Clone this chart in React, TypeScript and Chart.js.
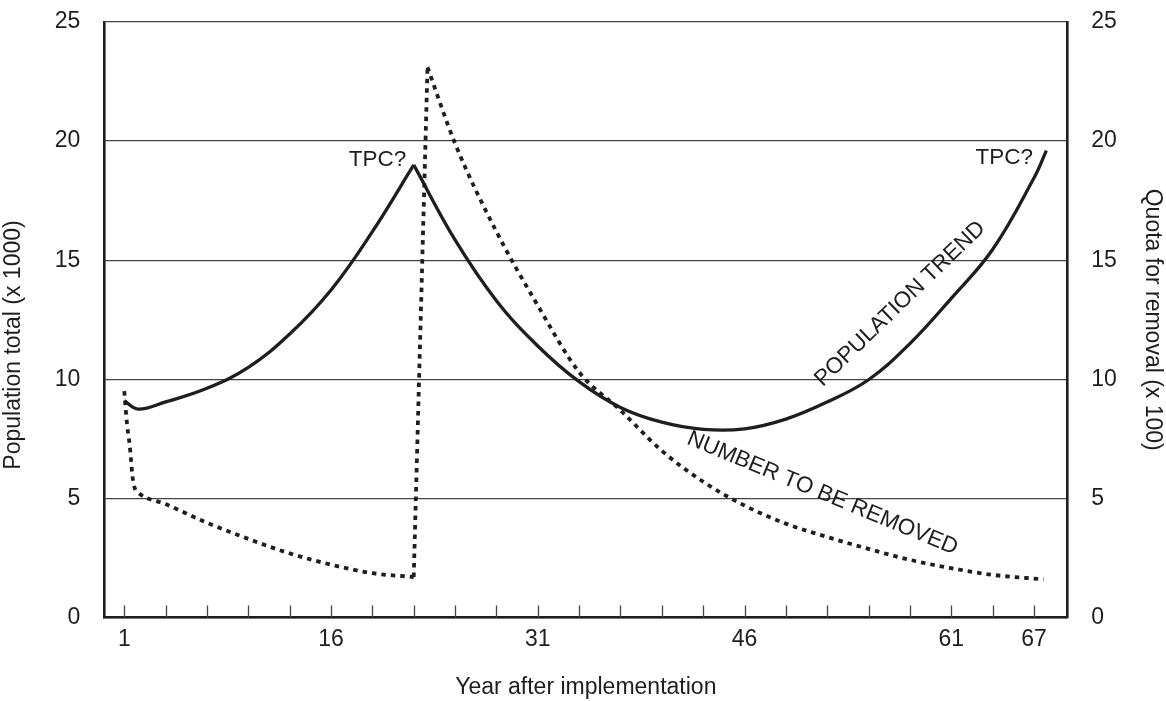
import React, { useEffect, useRef } from "react";
import { Chart, registerables } from "chart.js";

Chart.register(...registerables);

// ---------- data ----------
const popRiseYears = [1, 2, 4, 7, 10, 13, 16, 19, 22];
const popRiseValues = [9.1, 8.75, 9.05, 9.62, 10.5, 11.9, 13.75, 16.2, 19.0];

const popFallYears = [22, 25, 28, 31, 34, 37, 40, 43, 46, 49, 52, 55, 58, 61, 64, 67, 67.9];
const popFallValues = [19.0, 15.85, 13.3, 11.4, 9.9, 8.82, 8.2, 7.9, 7.92, 8.33, 9.05, 9.98, 11.5, 13.4, 15.45, 18.45, 19.6];

const removalEarlyYears = [1, 1.2, 1.4, 1.6, 1.75, 2, 4, 7, 10, 13, 16, 19, 22];
const removalEarlyValues = [9.5, 8.1, 7.2, 5.9, 5.45, 5.25, 4.76, 3.98, 3.3, 2.69, 2.22, 1.86, 1.7];

const removalJumpYears = [22, 23];
const removalJumpValues = [1.7, 23.1];

const removalLateYears = [23, 25, 28, 31, 34, 37, 40, 43, 46, 49, 52, 55, 58, 61, 64, 67.7];
const removalLateValues = [23.1, 19.9, 16.2, 13.1, 10.3, 8.7, 7.0, 5.7, 4.7, 3.94, 3.38, 2.88, 2.42, 2.07, 1.79, 1.6];

const xTickYears = [1, 4, 7, 10, 13, 16, 19, 22, 25, 28, 31, 34, 37, 40, 43, 46, 49, 52, 55, 58, 61, 64, 67];
const xLabelYears = [1, 16, 31, 46, 61, 67];

const xTitle = "Year after implementation";
const yLeftTitle = "Population total (x 1000)";
const yRightTitle = "Quota for removal (x 100)";

const annotationTexts = ["TPC?", "TPC?", "POPULATION TREND", "NUMBER TO BE REMOVED"];
const annotationYears = [19.37, 64.84, 57.29, 51.65];
const annotationValues = [19.22, 19.29, 13.17, 5.21];
const annotationAngles = [0, 0, -44, 22.5];

// ---------- styling ----------
const FONT = '"Liberation Sans", Arial, Helvetica, sans-serif';
const INK = "#1e1e1e";
const CHART_LEFT = 104.3;
const CHART_RIGHT = 1067.3;
const CHART_TOP = 22;
const CHART_BOTTOM = 617.5;
const W = 1166;
const H = 701;
const LEFT_TITLE_CENTER_Y = 345;

const toPoints = (xs: number[], ys: number[]) => xs.map((x, i) => ({ x, y: ys[i] }));

const tickMarksPlugin = {
  id: "innerTicks",
  beforeDatasetsDraw(chart: any) {
    const xs = chart.scales.x;
    const ctx = chart.ctx;
    const bottom = chart.chartArea.bottom;
    ctx.save();
    ctx.strokeStyle = "#444";
    ctx.lineWidth = 1.3;
    xTickYears.forEach((v) => {
      const px = Math.round(xs.getPixelForValue(v)) + 0.5;
      ctx.beginPath();
      ctx.moveTo(px, bottom);
      ctx.lineTo(px, bottom - 12);
      ctx.stroke();
    });
    ctx.restore();
  },
};

const annotationPlugin = {
  id: "curveLabels",
  afterDatasetsDraw(chart: any) {
    const xs = chart.scales.x;
    const ys = chart.scales.y;
    const ctx = chart.ctx;
    ctx.save();
    ctx.fillStyle = INK;
    ctx.font = `22.5px ${FONT}`;
    ctx.textAlign = "center";
    ctx.textBaseline = "middle";
    annotationTexts.forEach((t, i) => {
      const px = xs.getPixelForValue(annotationYears[i]);
      const py = ys.getPixelForValue(annotationValues[i]);
      ctx.save();
      ctx.translate(px, py);
      ctx.rotate((annotationAngles[i] * Math.PI) / 180);
      ctx.fillText(t, 0, 0);
      ctx.restore();
    });
    // left axis title
    ctx.font = `23px ${FONT}`;
    ctx.save();
    ctx.translate(13.5, LEFT_TITLE_CENTER_Y);
    ctx.rotate(-Math.PI / 2);
    ctx.fillText(yLeftTitle, 0, 0);
    ctx.restore();
    ctx.restore();
  },
};

const fixVertical = (width: number) => (scale: any) => {
  scale.width = width;
  scale.paddingTop = 8;
  scale.paddingBottom = 8;
};

export default function App() {
  const canvasRef = useRef<HTMLCanvasElement | null>(null);

  useEffect(() => {
    if (!canvasRef.current) return;
    const lineCommon = {
      borderColor: INK,
      pointRadius: 0,
      fill: false,
    };
    const solid = { ...lineCommon, borderWidth: 3.3, yAxisID: "y", tension: 0.4 };
    const dotted = {
      ...lineCommon,
      borderWidth: 3.8,
      borderDash: [4.5, 5],
      borderCapStyle: "butt" as const,
      yAxisID: "y1",
      cubicInterpolationMode: "monotone" as const,
    };

    const chart = new Chart(canvasRef.current, {
      type: "line",
      data: {
        datasets: [
          { ...solid, label: "Population rise", data: toPoints(popRiseYears, popRiseValues) },
          { ...solid, label: "Population trend", data: toPoints(popFallYears, popFallValues) },
          { ...dotted, label: "Removal early", data: toPoints(removalEarlyYears, removalEarlyValues) },
          { ...dotted, label: "Removal jump", tension: 0, cubicInterpolationMode: "default", data: toPoints(removalJumpYears, removalJumpValues) },
          { ...dotted, label: "Removal late", data: toPoints(removalLateYears, removalLateValues) },
        ],
      },
      plugins: [tickMarksPlugin, annotationPlugin],
      options: {
        animation: false,
        responsive: false,
        layout: { padding: { top: CHART_TOP, left: 0, right: 0, bottom: 0 } },
        plugins: {
          legend: { display: false },
          tooltip: { enabled: false },
        },
        scales: {
          x: {
            type: "linear",
            min: -0.45,
            max: 69.42,
            afterBuildTicks: (scale: any) => {
              scale.ticks = xTickYears.map((v) => ({ value: v }));
            },
            afterFit: (scale: any) => {
              scale.height = H - CHART_BOTTOM;
            },
            ticks: {
              autoSkip: false,
              maxRotation: 0,
              color: INK,
              padding: 8,
              font: { family: FONT, size: 23 },
              callback: (v: any) => (xLabelYears.includes(Number(v)) ? String(v) : ""),
            },
            grid: { display: true, drawOnChartArea: false, drawTicks: false },
            border: { display: true, color: INK, width: 2.6 },
            title: {
              display: true,
              text: xTitle,
              color: INK,
              font: { family: FONT, size: 23 },
              padding: { top: 0, bottom: 0 },
            },
          },
          y: {
            type: "linear",
            position: "left",
            min: 0,
            max: 25,
            afterFit: fixVertical(CHART_LEFT),
            ticks: {
              stepSize: 5,
              color: INK,
              padding: 24,
              font: { family: FONT, size: 23 },
            },
            grid: { color: "#444", lineWidth: 1.2, drawTicks: false },
            border: { display: true, color: INK, width: 2.6 },
            title: { display: false },
          },
          y1: {
            type: "linear",
            position: "right",
            min: 0,
            max: 25,
            afterFit: fixVertical(W - CHART_RIGHT),
            ticks: {
              stepSize: 5,
              color: INK,
              padding: 24,
              font: { family: FONT, size: 23 },
            },
            grid: { display: true, drawOnChartArea: false, drawTicks: false },
            border: { display: true, color: INK, width: 2.6 },
            title: {
              display: true,
              text: yRightTitle,
              color: INK,
              font: { family: FONT, size: 23 },
              padding: { top: 0, bottom: 0 },
            },
          },
        },
      },
    });
    return () => chart.destroy();
  }, []);

  return (
    <div style={{ position: "fixed", left: 0, top: 0, width: W, height: H, background: "#fff" }}>
      <canvas ref={canvasRef} width={W} height={H} style={{ display: "block" }} />
    </div>
  );
}
